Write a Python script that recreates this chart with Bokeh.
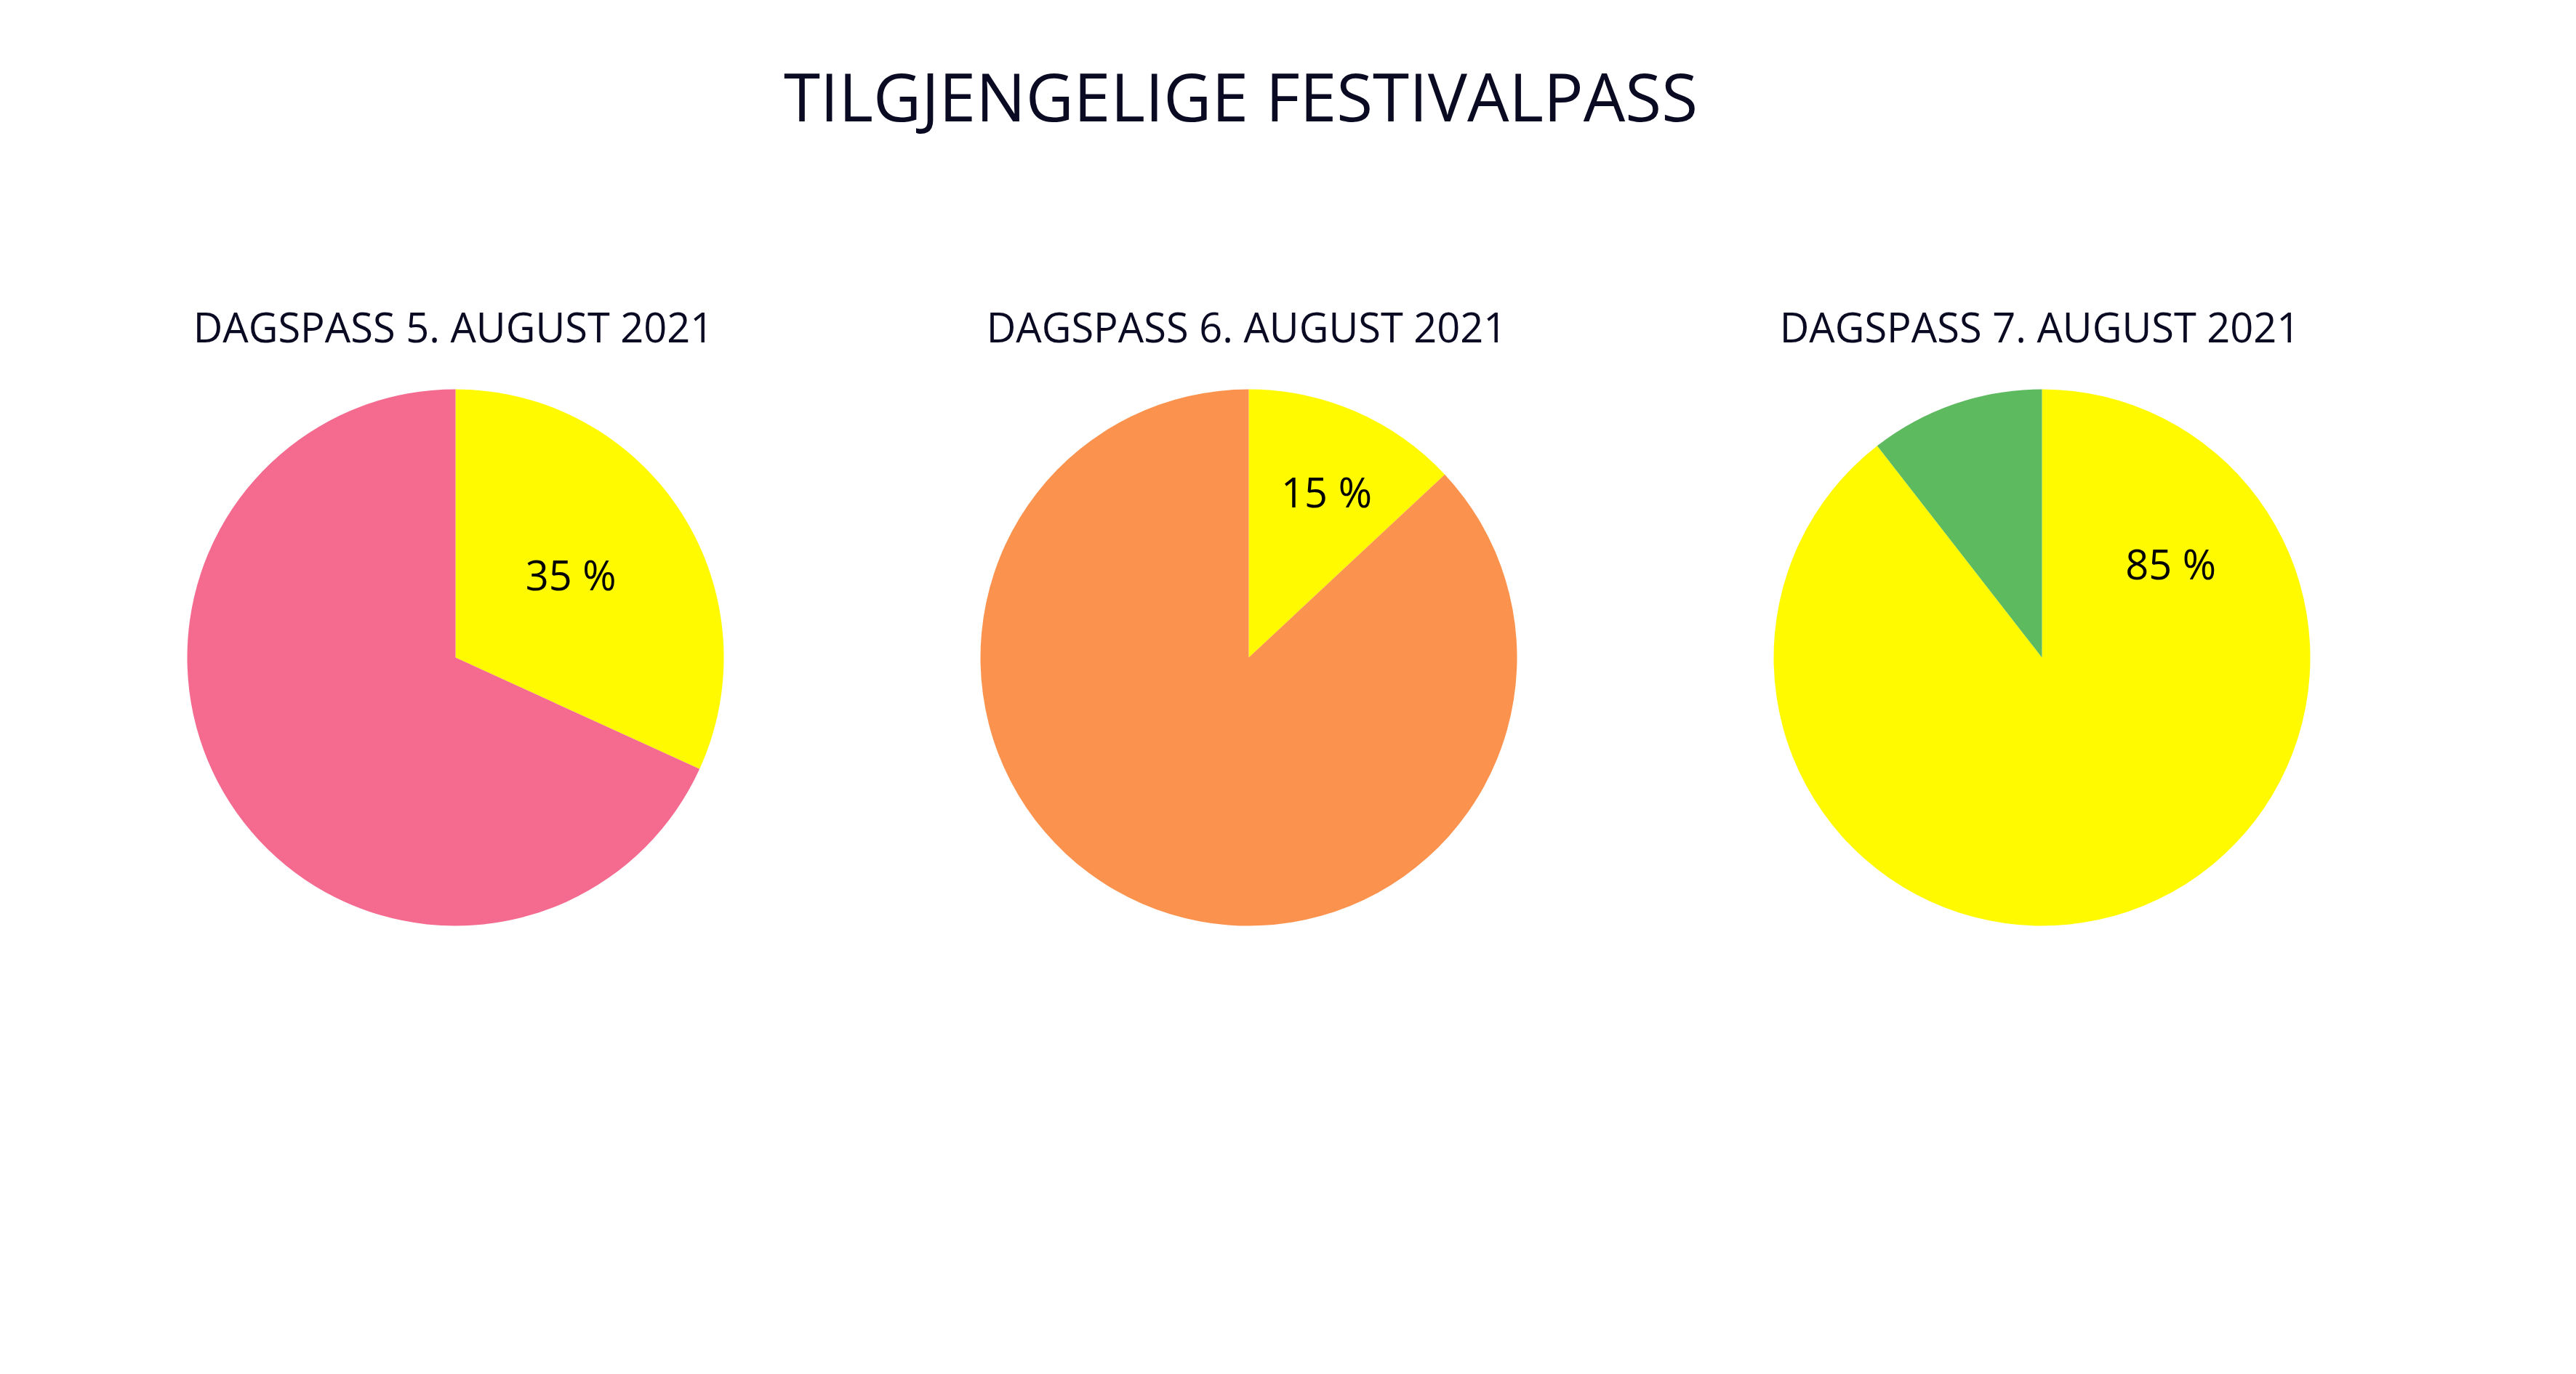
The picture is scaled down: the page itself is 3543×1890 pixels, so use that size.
import math
from bokeh.plotting import figure
from bokeh.models import Range1d, ColumnDataSource
from bokeh.embed import file_html
from bokeh.resources import INLINE
from bokeh.core.properties import value

# ---- data ----
title_text = "TILGJENGELIGE FESTIVALPASS"
chart_titles = ["DAGSPASS 5. AUGUST 2021", "DAGSPASS 6. AUGUST 2021", "DAGSPASS 7. AUGUST 2021"]
available = [35, 15, 85]          # yellow slice (labelled)
other = [75, 100, 10]             # remaining slice
labels = ["35 %", "15 %", "85 %"]

# ---- style / layout ----
yellow = "#FFFA00"
other_colors = ["#F56A8F", "#FB934E", "#5DBA5F"]
text_color = "#0A0A23"
font = "Open Sans"

W, H = 3527, 1874
centers_x = [626, 1717, 2808]
center_y = H - 904
R = 369
label_offsets = [(0.43, 0.31), (0.29, 0.62), (0.48, 0.35)]

p = figure(width=W, height=H, output_backend="svg", toolbar_location=None,
           x_range=Range1d(0, W), y_range=Range1d(0, H), min_border=0)
p.axis.visible = False
p.grid.visible = False
p.outline_line_color = None
p.background_fill_color = "white"

for i in range(3):
    total = available[i] + other[i]
    a_frac = available[i] / total
    start = math.pi / 2
    mid = start - 2 * math.pi * a_frac
    end = start - 2 * math.pi
    src = ColumnDataSource(dict(
        x=[centers_x[i], centers_x[i]],
        y=[center_y, center_y],
        start=[start, mid],
        end=[mid, end],
        color=[yellow, other_colors[i]],
    ))
    p.wedge(x="x", y="y", radius=R, start_angle="start", end_angle="end",
            direction="clock", fill_color="color", line_color=None, source=src)
    dx, dy = label_offsets[i]
    p.text(x=[centers_x[i] + dx * R], y=[center_y + dy * R], text=[labels[i]],
           text_font=value(font), text_font_size="56px", text_color="#000000",
           text_align="center", text_baseline="middle")
    p.text(x=[centers_x[i] - 3], y=[H - 448], text=[chart_titles[i]],
           text_font=value(font), text_font_size="56px", text_color=text_color,
           text_align="center", text_baseline="alphabetic")

p.text(x=[1706], y=[H - 131], text=[title_text], text_font=value(font),
       text_font_size="91px", text_color=text_color, text_align="center",
       text_baseline="alphabetic")

open("out.html", "w").write(file_html(p, INLINE))
